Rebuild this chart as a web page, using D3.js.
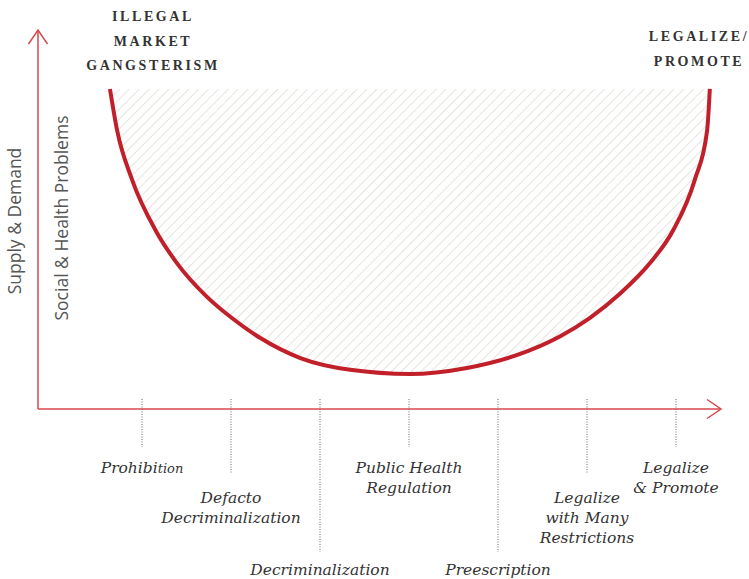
<!DOCTYPE html>
<html>
<head>
<meta charset="utf-8">
<script src="https://cdn.jsdelivr.net/npm/d3@7"></script>
<style>
  body { margin: 0; background: #fff; }
</style>
</head>
<body>
<div id="chart"></div>
<script>
// stages along the x axis (one tick each)
const stageLines = [
  ["Prohibition"],
  ["Defacto", "Decriminalization"],
  ["Decriminalization"],
  ["Public Health", "Regulation"],
  ["Preescription"],
  ["Legalize", "with Many", "Restrictions"],
  ["Legalize", "& Promote"]
];
const stageTier = [0, 1, 2, 0, 2, 1, 0];

// U-curve: problems level (0-100) against policy stage (0-6)
const curveStage = [-0.36, -0.28, -0.11, 0.15, 0.39, 0.73, 1.01, 1.33, 1.78, 2.34, 3.01, 3.65, 4.21, 4.70, 5.03, 5.37, 5.71, 5.97, 6.21, 6.35, 6.38];
const curveLevel = [84.4, 73.5, 60.3, 47.1, 38.4, 29.4, 23.8, 18.5, 13.2, 10.1, 9.0, 10.6, 14.0, 19.0, 23.8, 30.2, 38.4, 47.1, 60.3, 73.5, 84.4];

const leftTitle = ["ILLEGAL", "MARKET", "GANGSTERISM"];
const rightTitle = ["LEGALIZE/", "PROMOTE"];
const yTitles = ["Supply & Demand", "Social & Health Problems"];

const width = 749, height = 579;
const axisRed = "#d9474c";
const curveRed = "#c1202a";

const svg = d3.select("#chart").append("svg")
  .attr("width", width).attr("height", height);

const x = d3.scaleLinear().domain([0, 6]).range([142, 676]);
const y = d3.scaleLinear().domain([0, 100]).range([408, 30]);

// hatch pattern
const defs = svg.append("defs");
defs.append("pattern")
  .attr("id", "hatch")
  .attr("patternUnits", "userSpaceOnUse")
  .attr("width", 7).attr("height", 7)
  .attr("patternTransform", "rotate(45)")
  .append("line")
  .attr("x1", 0).attr("y1", 0).attr("x2", 0).attr("y2", 7)
  .attr("stroke", "#dadad0").attr("stroke-width", 1.4);

const pts = curveStage.map((s, i) => [s, curveLevel[i]]);

svg.append("path")
  .datum(pts)
  .attr("fill", "url(#hatch)")
  .attr("d", d3.area()
    .curve(d3.curveMonotoneX)
    .x(d => x(d[0]))
    .y0(y(curveLevel[0]))
    .y1(d => y(d[1])));

// axes
const x0 = 38, yBase = y(0) + 1;
svg.append("line")
  .attr("x1", x0).attr("y1", yBase).attr("x2", x0).attr("y2", 30)
  .attr("stroke", axisRed).attr("stroke-width", 1.5);
svg.append("path")
  .attr("d", `M${x0 - 9.5},44 L${x0},30 L${x0 + 9.5},44`)
  .attr("fill", "none").attr("stroke", axisRed).attr("stroke-width", 1.5);
svg.append("line")
  .attr("x1", x0).attr("y1", yBase).attr("x2", 721).attr("y2", yBase)
  .attr("stroke", axisRed).attr("stroke-width", 1.5);
svg.append("path")
  .attr("d", `M707,${yBase - 9.5} L721,${yBase} L707,${yBase + 9.5}`)
  .attr("fill", "none").attr("stroke", axisRed).attr("stroke-width", 1.5);

// curve
svg.append("path")
  .datum(pts)
  .attr("fill", "none")
  .attr("stroke", curveRed)
  .attr("stroke-width", 4)
  .attr("d", d3.line()
    .curve(d3.curveMonotoneX)
    .x(d => x(d[0]))
    .y(d => y(d[1])));

// stage ticks and labels
const tickEnd = [447, 474, 552];
const labelTop = [473, 503, 575];

const stage = svg.append("g").selectAll("g")
  .data(stageLines)
  .join("g")
  .attr("transform", (d, i) => `translate(${x(i)},0)`);

stage.append("line")
  .attr("y1", 399)
  .attr("y2", (d, i) => tickEnd[stageTier[i]])
  .attr("stroke", "#666")
  .attr("stroke-width", 1)
  .attr("stroke-dasharray", "1,1.5");

stage.each(function(lines, i) {
  const t = d3.select(this).append("text")
    .attr("text-anchor", "middle")
    .attr("font-family", "DejaVu Serif")
    .attr("font-style", "italic")
    .attr("font-size", 15.5)
    .attr("fill", "#333");
  lines.forEach((ln, k) => {
    const ts = t.append("tspan")
      .attr("x", 0)
      .attr("y", labelTop[stageTier[i]] + k * 20);
    if (ln === "Prohibition") {
      ts.text("Prohibi");
      t.append("tspan").attr("font-size", 13).text("tion");
    } else {
      ts.text(ln);
    }
  });
});

// top titles
const titleFont = g => g
  .attr("text-anchor", "middle")
  .attr("font-family", "Liberation Serif")
  .attr("font-weight", "bold")
  .attr("font-size", 14)
  .attr("letter-spacing", 2.6)
  .attr("fill", "#333");

svg.append("g").selectAll("text")
  .data(leftTitle)
  .join("text")
  .call(titleFont)
  .attr("x", 153)
  .attr("y", (d, i) => 21 + i * 24.5)
  .text(d => d);

svg.append("g").selectAll("text")
  .data(rightTitle)
  .join("text")
  .call(titleFont)
  .attr("x", 699)
  .attr("y", (d, i) => 41 + i * 25)
  .text(d => d);

// y titles
const yTitleX = [21, 68];
const yTitleY = [221, 218];
svg.append("g").selectAll("text")
  .data(yTitles)
  .join("text")
  .attr("transform", (d, i) => `translate(${yTitleX[i]},${yTitleY[i]}) rotate(-90)`)
  .attr("text-anchor", "middle")
  .attr("font-family", "Open Sans")
  .attr("font-size", 17.5)
  .attr("fill", "#555")
  .text(d => d);
</script>
</body>
</html>
